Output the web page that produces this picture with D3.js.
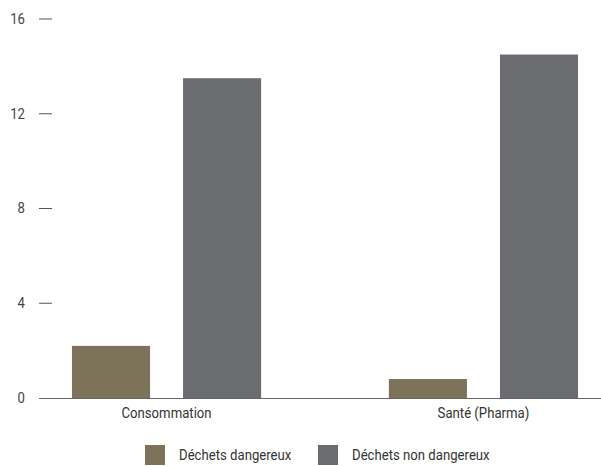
<!DOCTYPE html>
<html>
<head>
<meta charset="utf-8">
<script src="https://cdn.jsdelivr.net/npm/d3@7"></script>
<style>
  html, body { margin: 0; padding: 0; background: #fff; }
  svg text { font-family: "Roboto", "Liberation Sans", sans-serif; }
</style>
</head>
<body>
<svg id="chart" width="601" height="466"></svg>
<script>
// Waste volumes by sector
const categories = ["Consommation", "Santé (Pharma)"];
const seriesNames = ["Déchets dangereux", "Déchets non dangereux"];
const dangereux = [2.2, 0.8];
const nonDangereux = [13.5, 14.5];
const yTicks = [0, 4, 8, 12, 16];
const colors = ["#7c735a", "#6b6c70"];

const rows = categories.map((c, i) => ({ category: c, values: [dangereux[i], nonDangereux[i]] }));

const svg = d3.select("#chart");
const W = 601;
const narrow = 0.94; // horizontal squeeze for a condensed look

const y = d3.scaleLinear().domain([0, 16]).range([398, 19]);

const x0 = d3.scaleBand().domain(categories).range([39, 611])
  .paddingInner(0.403).paddingOuter(0.104);
const x1 = d3.scaleBand().domain(seriesNames).range([0, x0.bandwidth()])
  .paddingInner(0.297).paddingOuter(0);

// y axis: short ticks with labels on the left
const yAxis = svg.append("g").attr("transform", "translate(39,0)");
yTicks.forEach(t => {
  if (t !== 0) {
    yAxis.append("line")
      .attr("x1", 0).attr("x2", 13)
      .attr("y1", y(t)).attr("y2", y(t))
      .attr("stroke", "#555").attr("stroke-width", 1);
  }
  yAxis.append("text")
    .attr("transform", `translate(-14,${y(t)}) scale(${narrow},1)`)
    .attr("dy", "0.35em")
    .attr("text-anchor", "end")
    .attr("font-size", 14)
    .attr("fill", "#444")
    .text(t);
});

// bars
const groups = svg.append("g").selectAll("g").data(rows).join("g")
  .attr("transform", d => `translate(${x0(d.category)},0)`);
groups.selectAll("rect")
  .data(d => d.values.map((v, k) => ({ key: seriesNames[k], v, k })))
  .join("rect")
  .attr("x", d => x1(d.key))
  .attr("width", x1.bandwidth())
  .attr("y", d => y(d.v))
  .attr("height", d => y(0) - y(d.v))
  .attr("fill", d => colors[d.k]);

// baseline
svg.append("line")
  .attr("x1", 39).attr("x2", W)
  .attr("y1", y(0) + 0.5).attr("y2", y(0) + 0.5)
  .attr("stroke", "#666").attr("stroke-width", 1);

// category labels
svg.append("g").selectAll("text").data(categories).join("text")
  .attr("transform", d => `translate(${x0(d) + x0.bandwidth() / 2},418) scale(${narrow},1)`)
  .attr("text-anchor", "middle")
  .attr("font-size", 14)
  .attr("fill", "#333")
  .text(d => d);

// legend
const legendX = [145, 318];
const legend = svg.append("g").selectAll("g").data(seriesNames).join("g")
  .attr("transform", (d, i) => `translate(${legendX[i]},445)`);
legend.append("rect").attr("width", 20).attr("height", 20)
  .attr("fill", (d, i) => colors[i]);
legend.append("text")
  .attr("transform", `translate(34,10) scale(${narrow},1)`)
  .attr("dy", "0.35em")
  .attr("font-size", 14).attr("fill", "#333")
  .text(d => d);
</script>
</body>
</html>
